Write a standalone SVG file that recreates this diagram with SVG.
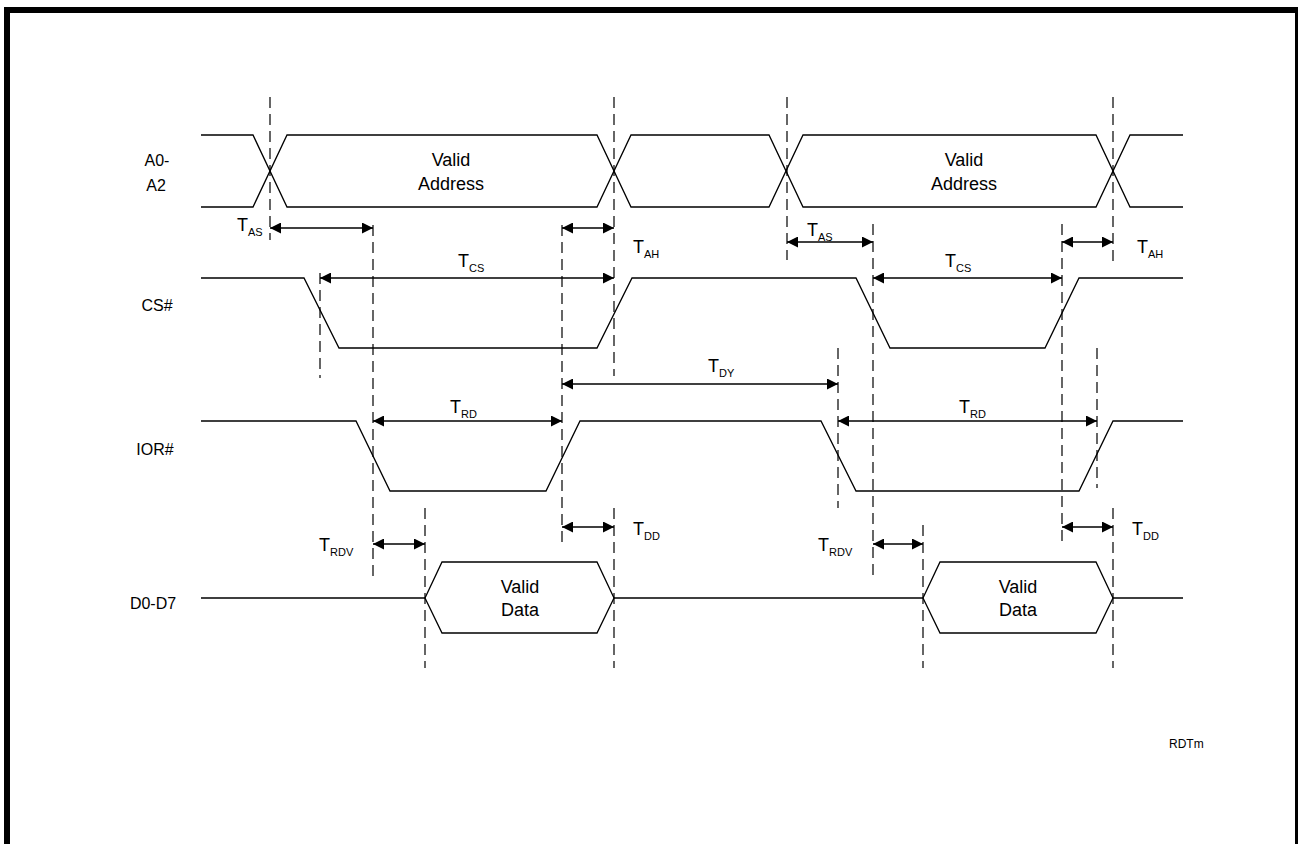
<svg xmlns="http://www.w3.org/2000/svg" width="1298" height="844" viewBox="0 0 1298 844">
<style>
.sig{fill:none;stroke:#000;stroke-width:1.3}
.dash{fill:none;stroke:#000;stroke-width:1.2;stroke-dasharray:11,6}
.arr{fill:none;stroke:#000;stroke-width:1.3;marker-start:url(#ah);marker-end:url(#ah)}
text{font-family:"Liberation Sans",Arial,sans-serif;font-size:18px;fill:#000}
.lab{text-anchor:middle}
.name{text-anchor:middle;font-size:16px}
.sub{font-size:11px}
</style>
<defs>
<marker id="ah" markerWidth="11" markerHeight="11" refX="11" refY="5.5" orient="auto-start-reverse" markerUnits="userSpaceOnUse">
<path d="M0,0 L11,5.5 L0,11 z" fill="#000"/>
</marker>
</defs>
<rect x="0" y="0" width="1298" height="844" fill="#fff"/>
<rect x="7" y="10" width="1291" height="900" fill="none" stroke="#000" stroke-width="6"/>

<g id="sig-a0a2">
<text class="name" x="157" y="166">A0-</text>
<text class="name" x="156" y="191">A2</text>
<path class="sig" d="M201,135 H253 L287,207 H597 L631,135 H769 L803,207 H1096 L1130,135 H1183"/>
<path class="sig" d="M201,207 H253 L287,135 H597 L631,207 H769 L803,135 H1096 L1130,207 H1183"/>
<text class="lab" x="451" y="166">Valid</text>
<text class="lab" x="451" y="190">Address</text>
<text class="lab" x="964" y="166">Valid</text>
<text class="lab" x="964" y="190">Address</text>
</g>

<g id="sig-cs">
<text class="name" x="157" y="311">CS#</text>
<path class="sig" d="M201,278 H304 L339,348 H597 L632,278 H856 L890,348 H1045 L1079,278 H1183"/>
</g>

<g id="sig-ior">
<text class="name" x="155" y="455">IOR#</text>
<path class="sig" d="M201,421 H356 L390,491 H546 L580,421 H821 L856,491 H1079 L1113,421 H1183"/>
</g>

<g id="sig-data">
<text class="name" x="153" y="609">D0-D7</text>
<path class="sig" d="M201,598 H425 M614,598 H923 M1113,598 H1183"/>
<polygon class="sig" points="425,598 442,562 597,562 614,598 597,633 442,633"/>
<polygon class="sig" points="923,598 940,562 1096,562 1113,598 1096,633 940,633"/>
<text class="lab" x="520" y="593">Valid</text>
<text class="lab" x="520" y="616">Data</text>
<text class="lab" x="1018" y="593">Valid</text>
<text class="lab" x="1018" y="616">Data</text>
</g>

<g id="connectors">
<path class="dash" d="M270,97 V240 M614,97 V376 M614,508 V668 M787,97 V260 M1113,97 V262 M1113,508 V668 M373,225 V580 M562,225 V545 M873,224 V580 M1062,224 V545 M320,273 V378 M838,348 V508 M1097,348 V488 M425,508 V668 M923,525 V668"/>
<path class="arr" d="M270,228 H373"/>
<path class="arr" d="M562,228 H614"/>
<path class="arr" d="M787,242 H873"/>
<path class="arr" d="M1062,242 H1113"/>
<path class="arr" d="M320,278 H614"/>
<path class="arr" d="M873,278 H1062"/>
<path class="arr" d="M562,384 H838"/>
<path class="arr" d="M373,421 H562"/>
<path class="arr" d="M838,421 H1097"/>
<path class="arr" d="M373,544 H425"/>
<path class="arr" d="M873,544 H923"/>
<path class="arr" d="M562,527 H614"/>
<path class="arr" d="M1062,527 H1113"/>
</g>

<g id="timing-labels">
<text x="237" y="231">T<tspan class="sub" dy="5">AS</tspan></text>
<text x="633" y="253">T<tspan class="sub" dy="5">AH</tspan></text>
<text x="807" y="236">T<tspan class="sub" dy="5">AS</tspan></text>
<text x="1137" y="253">T<tspan class="sub" dy="5">AH</tspan></text>
<text x="458" y="267">T<tspan class="sub" dy="5">CS</tspan></text>
<text x="945" y="267">T<tspan class="sub" dy="5">CS</tspan></text>
<text x="708" y="372">T<tspan class="sub" dy="5">DY</tspan></text>
<text x="450" y="413">T<tspan class="sub" dy="5">RD</tspan></text>
<text x="959" y="413">T<tspan class="sub" dy="5">RD</tspan></text>
<text x="319" y="551">T<tspan class="sub" dy="5">RDV</tspan></text>
<text x="818" y="551">T<tspan class="sub" dy="5">RDV</tspan></text>
<text x="633" y="535">T<tspan class="sub" dy="5">DD</tspan></text>
<text x="1132" y="535">T<tspan class="sub" dy="5">DD</tspan></text>
<text x="1169" y="748" style="font-size:12px">RDTm</text>
</g>
</svg>
